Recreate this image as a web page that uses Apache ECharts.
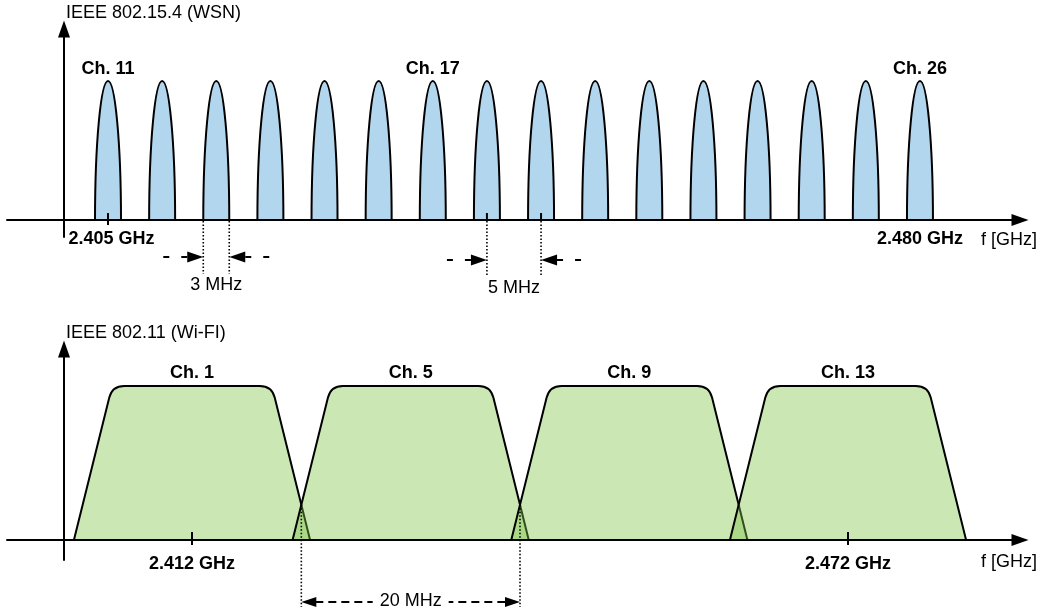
<!DOCTYPE html>
<html>
<head>
<meta charset="utf-8">
<script src="https://cdn.jsdelivr.net/npm/echarts@6/dist/echarts.min.js"></script>
<style>
  html, body { margin: 0; padding: 0; background: #fff; }
  #chart { width: 1041px; height: 614px; }
</style>
</head>
<body>
<div id="chart"></div>
<script>
// ---------------- data ----------------
// IEEE 802.15.4 (WSN) channel centre frequencies, MHz (Ch. 11 ... Ch. 26)
const wsnCenters = [2405, 2410, 2415, 2420, 2425, 2430, 2435, 2440, 2445, 2450, 2455, 2460, 2465, 2470, 2475, 2480];
const wsnPulseHalfWidth = 1.2;   // MHz
const wsnPulseHeight = 1;
const wsnLabelNames = ['Ch. 11', 'Ch. 17', 'Ch. 26'];
const wsnLabelFreqs = [2405, 2435, 2480];
const wsnTickFreqs = [2405];
const wsnTickLabelFreqs = [2405, 2480];
const wsnTickLabels = ['2.405 GHz', '2.480 GHz'];
const wsnDimSpans = [[2413.8, 2416.2], [2440, 2445]];
const wsnDimTexts = ['3 MHz', '5 MHz'];

// IEEE 802.11 (Wi-Fi) channels
const wifiCenters = [2412, 2432, 2452, 2472];
const wifiNames = ['Ch. 1', 'Ch. 5', 'Ch. 9', 'Ch. 13'];
const wifiBaseHalf = 10.8;   // MHz
const wifiTopHalf = 7.3;     // MHz
const wifiHeight = 1;
const wifiTickFreqs = [2412, 2472];
const wifiTickLabelFreqs = [2412, 2472];
const wifiTickLabels = ['2.412 GHz', '2.472 GHz'];
const wifiDimSpans = [[2422, 2442]];
const wifiDimTexts = ['20 MHz'];

const xAxisTitle = 'f [GHz]';
const wsnTitle = 'IEEE 802.15.4 (WSN)';
const wifiTitle = 'IEEE 802.11 (Wi-FI)';

// ---------------- style ----------------
const FONT = '"Liberation Sans", Arial, Helvetica, sans-serif';
const FS = 18;
const BLUE = '#b3d6ef';
const GREEN = 'rgba(122,195,68,0.4)';
const BLACK = '#000';

function lineEl(x1, y1, x2, y2, dash, w) {
  return { type: 'line', shape: { x1, y1, x2, y2 },
    style: { stroke: BLACK, lineWidth: w || 2, lineDash: dash || null } };
}
function triEl(pts) {
  return { type: 'polygon', shape: { points: pts }, style: { fill: BLACK } };
}
function textEl(x, y, text, bold, extra) {
  return { type: 'text', x, y,
    style: Object.assign({ text, fill: BLACK, fontSize: FS, fontFamily: FONT,
      fontWeight: bold ? 'bold' : 'normal', align: 'center', verticalAlign: 'middle' }, extra || {}) };
}
const DOT = [1.5, 2];

// WSN pulses
function renderPulse(params, api) {
  const c = api.value(0), h = api.value(1);
  const L = api.coord([c - wsnPulseHalfWidth, 0]);
  const R = api.coord([c + wsnPulseHalfWidth, 0]);
  const T = api.coord([c, h]);
  const a = (R[0] - L[0]) / 2, H = L[1] - T[1], k = 0.5523;
  const d = `M${L[0]} ${L[1]} C${L[0]} ${L[1] - k * H} ${T[0] - k * a} ${T[1]} ${T[0]} ${T[1]} ` +
            `C${T[0] + k * a} ${T[1]} ${R[0]} ${R[1] - k * H} ${R[0]} ${R[1]} Z`;
  return { type: 'path', shape: { pathData: d }, style: { fill: BLUE, stroke: BLACK, lineWidth: 2 } };
}

// Wi-Fi trapezoid masks with rounded top corners
function renderTrap(params, api) {
  const c = api.value(0), h = api.value(1);
  const B1 = api.coord([c - wifiBaseHalf, 0]), V1 = api.coord([c - wifiTopHalf, h]);
  const V2 = api.coord([c + wifiTopHalf, h]), B2 = api.coord([c + wifiBaseHalf, 0]);
  const r = 12;
  function toward(P, Q, dist) {
    const dx = Q[0] - P[0], dy = Q[1] - P[1], l = Math.hypot(dx, dy);
    return [P[0] + dx / l * dist, P[1] + dy / l * dist];
  }
  const a1 = toward(V1, B1, r), a2 = toward(V1, V2, r);
  const b1 = toward(V2, V1, r), b2 = toward(V2, B2, r);
  const d = `M${B1[0]} ${B1[1]} L${a1[0]} ${a1[1]} Q${V1[0]} ${V1[1]} ${a2[0]} ${a2[1]} ` +
            `L${b1[0]} ${b1[1]} Q${V2[0]} ${V2[1]} ${b2[0]} ${b2[1]} L${B2[0]} ${B2[1]} Z`;
  return { type: 'path', shape: { pathData: d }, style: { fill: GREEN, stroke: BLACK, lineWidth: 2 } };
}

function renderLabel(names, gap) {
  return function (params, api) {
    const p = api.coord([api.value(0), api.value(1)]);
    return textEl(p[0], p[1] - gap, names[params.dataIndex], true);
  };
}

function renderTick(up, down) {
  return function (params, api) {
    const p = api.coord([api.value(0), 0]);
    return lineEl(p[0], p[1] - up, p[0], p[1] + down, null, 2);
  };
}

function renderWsnDim(params, api) {
  const i = params.dataIndex;
  const f1 = api.value(0), f2 = api.value(1);
  const p1 = api.coord([f1, 0]), p2 = api.coord([f2, 0]);
  const ay = p1[1];
  const drop = i === 0 ? 37 : 40;
  const y = ay + drop;
  const ch = [];
  [[p1[0], f1], [p2[0], f2]].forEach(([x, f]) => {
    if (wsnCenters.indexOf(f) >= 0) ch.push(lineEl(x, ay - 7, x, ay, null, 2));
    ch.push(lineEl(x, ay + 1, x, ay + drop + 17, DOT, 1.6));
  });
  const x1 = p1[0], x2 = p2[0];
  ch.push(lineEl(x1 - 40, y, x1 - 15, y, [6, 12]));
  ch.push(triEl([[x1, y], [x1 - 16, y - 5.5], [x1 - 16, y + 5.5]]));
  ch.push(lineEl(x2 + 40, y, x2 + 15, y, [6, 12]));
  ch.push(triEl([[x2, y], [x2 + 16, y - 5.5], [x2 + 16, y + 5.5]]));
  ch.push(textEl((x1 + x2) / 2, ay + drop + 28, wsnDimTexts[i], false));
  return { type: 'group', children: ch };
}

function renderWifiDim(params, api) {
  const i = params.dataIndex;
  const f1 = api.value(0), f2 = api.value(1);
  // crossing height of neighbouring masks at the span edges
  let best = wifiCenters[0];
  wifiCenters.forEach(c => { if (c <= f1) best = c; });
  const hx = (wifiBaseHalf - (f1 - best)) / (wifiBaseHalf - wifiTopHalf) * wifiHeight;
  const p1 = api.coord([f1, 0]), p2 = api.coord([f2, 0]);
  const t1 = api.coord([f1, hx]);
  const ay = p1[1];
  const y = ay + 62;
  const x1 = p1[0], x2 = p2[0];
  const ch = [];
  ch.push(lineEl(x1, t1[1], x1, ay + 67, DOT, 1.6));
  ch.push(lineEl(x2, t1[1], x2, ay + 67, DOT, 1.6));
  ch.push(lineEl(x1 + 14, y, x2 - 14, y, [8, 5]));
  ch.push(triEl([[x1, y], [x1 + 15, y - 5], [x1 + 15, y + 5]]));
  ch.push(triEl([[x2, y], [x2 - 15, y - 5], [x2 - 15, y + 5]]));
  ch.push(textEl((x1 + x2) / 2, y - 1, wifiDimTexts[i], false,
    { backgroundColor: '#fff', padding: [1, 7, 1, 7] }));
  return { type: 'group', children: ch };
}

function xAxisCfg(gridIndex, min, max, labelFreqs, labels, margin, namePadTop, firstShift) {
  return {
    type: 'value', gridIndex, min, max,
    axisLine: { show: true, onZero: true, lineStyle: { color: BLACK, width: 2 },
      symbol: ['none', 'triangle'], symbolSize: [12, 17] },
    axisTick: { show: false },
    splitLine: { show: false },
    axisLabel: {
      customValues: labelFreqs,
      margin,
      color: BLACK, fontSize: FS, fontWeight: 'bold', fontFamily: FONT,
      rich: { s: { color: BLACK, fontSize: FS, fontWeight: 'bold', fontFamily: FONT,
                   padding: [0, 0, 0, firstShift || 0] } },
      formatter: v => {
        const idx = labelFreqs.findIndex(f => Math.abs(f - v) < 1e-6);
        if (idx < 0) return '';
        return idx === 0 && firstShift ? '{s|' + labels[idx] + '}' : labels[idx];
      }
    },
    name: xAxisTitle, nameLocation: 'end', nameGap: 17,
    nameTextStyle: { color: BLACK, fontSize: FS, fontFamily: FONT, align: 'right',
      verticalAlign: 'top', padding: [namePadTop, 0, 0, 0] }
  };
}
function yAxisCfg(gridIndex, min, max, title, gap) {
  return {
    type: 'value', gridIndex, min, max, offset: -57,
    axisLine: { show: true, onZero: false, lineStyle: { color: BLACK, width: 2 },
      symbol: ['none', 'triangle'], symbolSize: [12, 17] },
    axisTick: { show: false }, axisLabel: { show: false }, splitLine: { show: false },
    name: title, nameLocation: 'end', nameGap: gap,
    nameTextStyle: { color: BLACK, fontSize: FS, fontFamily: FONT, align: 'left',
      verticalAlign: 'middle', padding: [0, 0, 0, 2] }
  };
}

const chart = echarts.init(document.getElementById('chart'), null, { renderer: 'canvas' });
chart.setOption({
  backgroundColor: '#fff',
  animation: false,
  grid: [
    { left: 7, right: 21, top: 29, bottom: 377, containLabel: false },
    { left: 7, right: 21, top: 349, bottom: 54, containLabel: false }
  ],
  xAxis: [
    xAxisCfg(0, 2395.67, 2489.24, wsnTickLabelFreqs, wsnTickLabels, -7, 11, 7),
    xAxisCfg(1, 2395.08, 2487.73, wifiTickLabelFreqs, wifiTickLabels, -5, 13, 0)
  ],
  yAxis: [
    yAxisCfg(0, -0.122, 1.374, wsnTitle, 16),
    yAxisCfg(1, -0.130, 1.240, wifiTitle, 16)
  ],
  series: [
    { type: 'custom', xAxisIndex: 0, yAxisIndex: 0, renderItem: renderPulse, clip: false,
      data: wsnCenters.map(c => [c, wsnPulseHeight]) },
    { type: 'custom', xAxisIndex: 0, yAxisIndex: 0, renderItem: renderTick(7, 5), clip: false,
      data: wsnTickFreqs.map(f => [f]) },
    { type: 'custom', xAxisIndex: 0, yAxisIndex: 0, renderItem: renderLabel(wsnLabelNames, 12), clip: false,
      data: wsnLabelFreqs.map(f => [f, wsnPulseHeight]) },
    { type: 'custom', xAxisIndex: 0, yAxisIndex: 0, renderItem: renderWsnDim, clip: false,
      data: wsnDimSpans.map(s => [s[0], s[1]]) },
    { type: 'custom', xAxisIndex: 1, yAxisIndex: 1, renderItem: renderTrap, clip: false,
      data: wifiCenters.map(c => [c, wifiHeight]) },
    { type: 'custom', xAxisIndex: 1, yAxisIndex: 1, renderItem: renderTick(8, 5), clip: false,
      data: wifiTickFreqs.map(f => [f]) },
    { type: 'custom', xAxisIndex: 1, yAxisIndex: 1, renderItem: renderLabel(wifiNames, 13), clip: false,
      data: wifiCenters.map(c => [c, wifiHeight]) },
    { type: 'custom', xAxisIndex: 1, yAxisIndex: 1, renderItem: renderWifiDim, clip: false,
      data: wifiDimSpans.map(s => [s[0], s[1]]) }
  ]
});
</script>
</body>
</html>
